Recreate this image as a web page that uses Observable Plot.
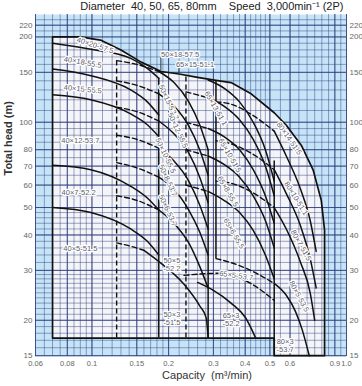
<!DOCTYPE html>
<html><head><meta charset="utf-8">
<script src="https://cdn.jsdelivr.net/npm/d3@7"></script>
<script src="https://cdn.jsdelivr.net/npm/@observablehq/plot@0.6"></script>
<style>
html,body{margin:0;padding:0;background:#fff;}
svg{font-family:"Liberation Sans",Arial,sans-serif;}
</style></head><body><div id="chart"></div>
<script>
// ---- axes / ticks ----
const xTicks = [0.06,0.08,0.1,0.15,0.2,0.3,0.4,0.5,0.6,0.9,1.0];
const xTickLabels = ["0.06","0.08","0.1","0.15","0.2","0.3","0.4","0.5","0.6","0.9","1.0"];
const yTicks = [15,20,30,40,50,60,70,80,100,150,200,220];
const gridQ = [0.06,0.065,0.07,0.075,0.08,0.085,0.09,0.095,0.1,0.11,0.12,0.13,0.14,0.15,0.16,0.17,0.18,0.19,0.2,0.22,0.24,0.26,0.28,0.3,0.32,0.34,0.36,0.38,0.4,0.42,0.44,0.46,0.48,0.5,0.55,0.6,0.65,0.7,0.75,0.8,0.85,0.9,0.95,1.0];
const gridH = [15,16,17,18,19,20,21,22,23,24,25,26,27,28,29,30,32,34,36,38,40,42,44,46,48,50,55,60,65,70,75,80,85,90,95,100,110,120,130,140,150,160,170,180,190,200,210,220,230];

// ---- operating envelope (Q m3/min, H m) ----
const envTop = [[0.07,200],[0.09,200],[0.108,195],[0.13,180],[0.156,163],[0.187,151],[0.22,148],[0.26,144],[0.307,140.5],[0.352,138],[0.422,126],[0.52,108],[0.58,97.6],[0.664,83],[0.74,67.7],[0.796,53],[0.82,41.5],[0.82,35]];
const envOutline = [[0.07,17.3],[0.07,200],[0.09,200],[0.108,195],[0.13,180],[0.156,163],[0.187,151],[0.22,148],[0.26,144],[0.307,140.5],[0.352,138],[0.422,126],[0.52,108],[0.58,97.6],[0.664,83],[0.74,67.7],[0.796,53],[0.82,41.5],[0.82,15],[0.52,15],[0.52,17.3],[0.07,17.3]];
const lowA = 17.3, lowB = 15;

// ---- pump curves ----
const solidCurves = [
  [[0.07,190],[0.099,181],[0.142,168],[0.165,155],[0.183,143]],
  [[0.07,154],[0.099,146],[0.142,130],[0.165,118],[0.183,106]],
  [[0.07,125],[0.099,120],[0.142,107],[0.165,98],[0.183,89]],
  [[0.07,70.5],[0.099,68],[0.142,59.4],[0.165,54],[0.183,49]],
  [[0.07,50],[0.099,48],[0.142,42],[0.165,38],[0.183,34]],
  [[0.183,151],[0.21,138],[0.24,118],[0.265,98],[0.286,80]],
  [[0.183,126],[0.21,114],[0.24,97],[0.265,80],[0.286,65]],
  [[0.183,101],[0.21,91],[0.24,78],[0.265,64],[0.286,52]],
  [[0.183,81],[0.21,73],[0.24,62],[0.265,51],[0.286,42]],
  [[0.183,64],[0.21,58],[0.24,49],[0.265,41],[0.286,34]],
  [[0.183,49],[0.21,44],[0.24,37.5],[0.265,31],[0.286,26]],
  [[0.16,35.3],[0.181,32.5],[0.23,26.8],[0.265,22.5],[0.281,20.4],[0.286,17.4]],
  [[0.286,141],[0.33,132],[0.38,118],[0.43,100],[0.48,80],[0.52,62]],
  [[0.286,122],[0.33,114],[0.38,102],[0.43,87],[0.48,70],[0.52,55]],
  [[0.286,95],[0.33,89],[0.38,80],[0.43,68],[0.48,55],[0.52,44]],
  [[0.286,76],[0.33,71],[0.38,64],[0.43,55],[0.48,45],[0.52,36]],
  [[0.286,57],[0.33,53],[0.38,48],[0.43,41.5],[0.48,34],[0.52,28]],
  [[0.26,27.2],[0.30,25.5],[0.352,23],[0.40,20.5],[0.44,17.3]],
  [[0.52,93],[0.58,76],[0.66,58],[0.72,45],[0.76,35]],
  [[0.52,68],[0.58,56],[0.66,43],[0.72,33],[0.76,26]],
  [[0.52,50],[0.58,42],[0.66,32],[0.72,25],[0.75,20]],
  [[0.52,27],[0.58,24.5],[0.63,21.5],[0.67,18.5],[0.714,15]]
];
const dashedCurves = [
  [[0.125,165],[0.15,160],[0.183,151]],
  [[0.125,140],[0.15,135],[0.183,126]],
  [[0.125,113],[0.15,109],[0.183,101]],
  [[0.125,90],[0.15,87],[0.183,81]],
  [[0.125,72],[0.15,69],[0.183,64]],
  [[0.125,55],[0.15,53],[0.183,49]],
  [[0.125,37.5],[0.145,36.3],[0.16,35.3]],
  [[0.234,128],[0.286,122]],
  [[0.234,100],[0.286,95]],
  [[0.234,80],[0.286,76]],
  [[0.234,60],[0.286,57]],
  [[0.23,28.8],[0.31,29.3],[0.42,27],[0.52,23.5]],
  [[0.307,118],[0.35,116],[0.42,107],[0.52,93]],
  [[0.307,86],[0.35,84],[0.42,78],[0.52,68]],
  [[0.307,62],[0.35,61],[0.42,57],[0.52,50]],
  [[0.307,33],[0.35,32],[0.42,30],[0.52,27]]
];
// vertical limits: [Q, Hlow, Hhigh]
const solidVerticals = [[0.183,17.3,143],[0.286,17.3,80],[0.307,33,140.5],[0.52,15,73]];
const dashedVerticals = [[0.125,17.3,165],[0.234,17.3,146]];
// label leaders: [Q, Hfrom, Hto]
const leaders = [[0.1865,169,152],[0.2196,156,149]];

// ---- model labels ----
const labelText = ["40×20-57.5","40×18-55.5","40×15-55.5","40×12-53.7","40×7-52.2","40×5-51.5",
  "50×18-57.5","65×15-51.1","50×15-53.7","50×12-55.5","50×10-55.5","50×8-53.7","50×6-53.7","50×5\n-52.2","50×3\n-51.5",
  "65×13-51.1","65×10-51.5","65×8-55.5","65×6-55.5","65×5-53.7","65×3\n-52.2",
  "80×14-51.5","80×10-51.1","80×7-51.5","80×5-53.5","80×3\n-53.7"];
const labelQ = [0.103,0.092,0.092,0.090,0.0886,0.090, 0.222,0.254,0.2005,0.2176,0.195,0.199,0.199,0.206,0.206, 0.307,0.3488,0.3425,0.3616,0.3683,0.352, 0.596,0.635,0.664,0.652,0.574];
const labelH = [187,163,131,86.4,56.4,36, 174,160,117.7,93.7,76.4,62.4,48.9,31.5,20.3, 112,76.4,57,40.5,28.8,20.2, 87.8,53.9,36.8,24.3,16.3];
const labelRot = [18,10,5,0,0,0, 0,0,65,65,65,65,65,0,0, 60,60,60,60,8,0, 55,58,60,62,0];
const labels = labelText.map((t,i)=>({t, Q:labelQ[i], H:labelH[i], r:labelRot[i]}));

const title = "Diameter\u00a0\u00a040,\u00a050,\u00a065,\u00a080mm\u00a0\u00a0\u00a0\u00a0Speed\u00a0\u00a03,000min\u207b\u00b9\u00a0(2P)";

const solidData = solidCurves.flatMap((c,i)=>c.map(([Q,H])=>({Q,H,id:i})));
const dashedData = dashedCurves.flatMap((c,i)=>c.map(([Q,H])=>({Q,H,id:i})));
const envA = envTop.filter(d=>d[0]<=0.52).map(([Q,H])=>({Q,H}));
const envB = envTop.filter(d=>d[0]>=0.52).map(([Q,H])=>({Q,H}));
const vSolid = solidVerticals.map(([Q,a,b])=>({Q,a,b}));
const vDashed = dashedVerticals.map(([Q,a,b])=>({Q,a,b}));
const vLead = leaders.map(([Q,a,b])=>({Q,a,b}));
const xLab = xTicks.map((Q,i)=>({Q, t: xTickLabels[i]}));
const gridColor = "#2d3b7c";
const tickFont = "'Liberation Sans Narrow','Arial Narrow','Liberation Sans',sans-serif";

const plot = Plot.plot({
  width: 362, height: 386,
  marginTop: 14, marginBottom: 30, marginLeft: 35, marginRight: 16,
  x: {type: "log", domain: [0.06, 1.0], axis: null},
  y: {type: "log", domain: [14.9, 240], axis: null},
  marks: [
    Plot.frame({fill: "#c6e4f8", stroke: null}),
    Plot.areaY(envA, {x: "Q", y1: lowA, y2: "H", fill: "#f4f5f8", curve: "monotone-x"}),
    Plot.areaY(envB, {x: "Q", y1: lowB, y2: "H", fill: "#f4f5f8", curve: "monotone-x"}),
    Plot.ruleX(gridQ, {stroke: gridColor, strokeWidth: 0.75, strokeOpacity: 0.6}),
    Plot.ruleY(gridH, {stroke: gridColor, strokeWidth: 0.75, strokeOpacity: 0.6}),
    Plot.ruleX(xTicks, {stroke: gridColor, strokeWidth: 1, strokeOpacity: 0.8}),
    Plot.ruleY(yTicks, {stroke: gridColor, strokeWidth: 1, strokeOpacity: 0.8}),
    Plot.line(dashedData, {x: "Q", y: "H", z: "id", stroke: "#111", strokeWidth: 1.4, strokeDasharray: "5,3", curve: "monotone-x"}),
    Plot.line(solidData, {x: "Q", y: "H", z: "id", stroke: "#111", strokeWidth: 1.5, curve: "monotone-x"}),
    Plot.ruleX(vSolid, {x: "Q", y1: "a", y2: "b", stroke: "#111", strokeWidth: 1.5}),
    Plot.ruleX(vDashed, {x: "Q", y1: "a", y2: "b", stroke: "#111", strokeWidth: 1.4, strokeDasharray: "5,3"}),
    Plot.line(envOutline.map(([Q,H])=>({Q,H})), {x: "Q", y: "H", stroke: "#111", strokeWidth: 1.7, curve: "linear"}),
    Plot.ruleX(vLead, {x: "Q", y1: "a", y2: "b", stroke: "#222", strokeWidth: 0.9}),
    Plot.text(labels, {x: "Q", y: "H", text: "t", rotate: "r", fontSize: 7.5, fill: "#5d5d6d", stroke: "white", strokeWidth: 2.5, lineHeight: 1.1}),
    Plot.text(yTicks, {y: d => d, frameAnchor: "left", dx: -3, textAnchor: "end", text: d => String(d), fontSize: 8, fill: "#666", fontFamily: tickFont}),
    Plot.text(yTicks, {y: d => d, frameAnchor: "right", dx: 3, textAnchor: "start", text: d => String(d), fontSize: 8, fill: "#666", fontFamily: tickFont}),
    Plot.text(xLab, {x: "Q", frameAnchor: "bottom", dy: 9.5, text: "t", fontSize: 7.5, fill: "#666", fontFamily: tickFont}),
    Plot.text([title], {frameAnchor: "top-right", dy: -8, dx: -3, fontSize: 11, fill: "#222", textAnchor: "end", lineAnchor: "middle"}),
    Plot.text(["Total head (m)"], {frameAnchor: "left", dx: -27, dy: -10, rotate: -90, fontSize: 11, fill: "#333", fontWeight: "bold"}),
    Plot.text(["Capacity\u00a0\u00a0(m\u00b3/min)"], {frameAnchor: "bottom", dy: 22, dx: 16, fontSize: 11, fill: "#333"})
  ]
});
document.getElementById("chart").appendChild(plot);
</script></body></html>
